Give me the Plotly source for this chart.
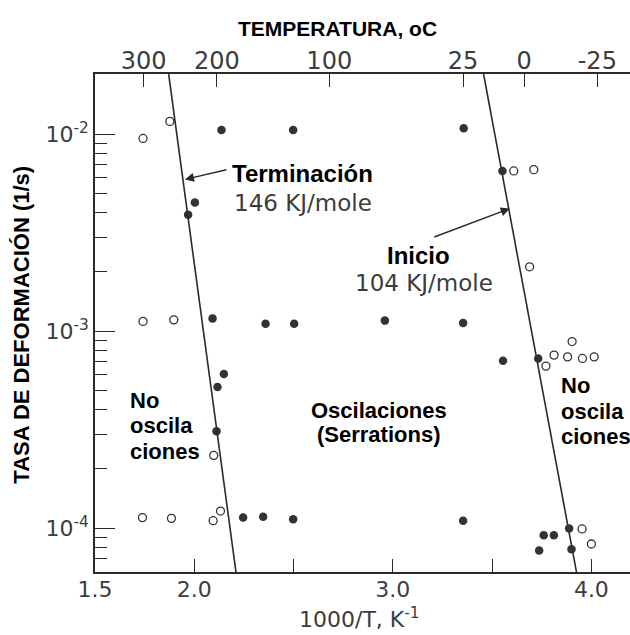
import plotly.graph_objects as go

# ---------------- data ----------------
# Filled circles: serrations observed (1000/T in K^-1, strain rate in 1/s)
serr_x = [2.137, 2.498, 3.357, 3.552, 2.003, 1.969, 2.092, 2.359, 2.503, 2.960,
          3.354, 3.555, 3.732, 2.149, 2.117, 2.112, 2.246, 2.347, 2.498, 3.354,
          3.760, 3.811, 3.888, 3.737, 3.900]
serr_y = [1.05e-2, 1.05e-2, 1.07e-2, 6.5e-3, 4.5e-3, 3.9e-3, 1.16e-3, 1.09e-3, 1.09e-3, 1.13e-3,
          1.10e-3, 7.06e-4, 7.26e-4, 6.05e-4, 5.2e-4, 3.1e-4, 1.13e-4, 1.14e-4, 1.11e-4, 1.09e-4,
          9.2e-5, 9.2e-5, 9.96e-5, 7.7e-5, 7.8e-5]

# Open circles: no serrations
noserr_x = [1.742, 1.877, 3.609, 3.710, 3.689, 1.742, 1.897, 3.771, 3.812, 3.880,
            3.903, 3.955, 4.014, 2.098, 1.739, 1.885, 2.132, 2.095, 3.953, 4.000]
noserr_y = [9.5e-3, 1.16e-2, 6.5e-3, 6.6e-3, 2.12e-3, 1.12e-3, 1.14e-3, 6.64e-4, 7.55e-4, 7.4e-4,
            8.85e-4, 7.26e-4, 7.4e-4, 2.34e-4, 1.13e-4, 1.12e-4, 1.22e-4, 1.09e-4, 9.9e-5, 8.3e-5]

# Boundary lines
term_line_x = [1.871, 2.210]      # Terminación, 146 kJ/mole
term_line_y = [2.018e-2, 5.98e-5]
ini_line_x = [3.457, 3.925]       # Inicio, 104 kJ/mole
ini_line_y = [2.018e-2, 5.98e-5]

# Axis ticks
x_tickvals = [1.5, 2.0, 3.0, 4.0]
x_ticktext = ["1.5", "2.0", "3.0", "4.0"]
x_minor_ticks = [2.5, 3.5]
temp_c = [300, 200, 100, 25, 0, -25]
temp_text = ["300", "200", "100", "25", "0", "-25"]
y_tickvals = [1e-4, 1e-3, 1e-2]
y_ticktext = ["10<sup>-4</sup>", "10<sup>-3</sup>", "10<sup>-2</sup>"]

# ---------------- figure ----------------
INK = "#2a2a2a"
GRAY = "#3c3c3c"
TICKFONT = "DejaVu Sans"
BOLD = "Liberation Sans, Arial, sans-serif"

fig = go.Figure()

fig.add_trace(go.Scatter(x=term_line_x, y=term_line_y, mode="lines",
                         line=dict(color=INK, width=1.6), xaxis="x2",
                         showlegend=False, hoverinfo="skip"))
fig.add_trace(go.Scatter(x=ini_line_x, y=ini_line_y, mode="lines",
                         line=dict(color=INK, width=1.6),
                         showlegend=False, hoverinfo="skip"))
fig.add_trace(go.Scatter(x=serr_x, y=serr_y, mode="markers",
                         marker=dict(symbol="circle", size=8.5, color="#333333",
                                     line=dict(width=0)),
                         showlegend=False))
fig.add_trace(go.Scatter(x=noserr_x, y=noserr_y, mode="markers",
                         marker=dict(symbol="circle-open", size=8,
                                     color="#333333", line=dict(width=1.3)),
                         showlegend=False))

XR = [1.5, 4.1945]
YR = [-4.223, -1.695]

minor_y = [m * 10.0 ** e for e in (-5, -4, -3, -2) for m in range(2, 10)]

fig.update_layout(
    width=630, height=635,
    margin=dict(l=95, r=0, t=74, b=63),
    paper_bgcolor="white", plot_bgcolor="white",
    xaxis=dict(range=XR, tickvals=x_tickvals, ticktext=x_ticktext,
               ticks="inside", ticklen=13, tickwidth=1.3, tickcolor=INK,
               minor=dict(tickvals=x_minor_ticks, ticks="inside", ticklen=13,
                          tickwidth=1.3, tickcolor=INK, showgrid=False),
               showline=True, linecolor=INK, linewidth=1.6,
               showgrid=False, zeroline=False, ticklabelstandoff=-3,
               tickfont=dict(family=TICKFONT, size=22, color=GRAY)),
    xaxis2=dict(range=XR, overlaying="x", side="top",
                tickvals=[1000.0 / (t + 273.15) for t in temp_c],
                ticktext=temp_text,
                ticks="inside", ticklen=13, tickwidth=1.3, tickcolor=INK,
                showline=True, linecolor=INK, linewidth=1.6,
                showgrid=False, zeroline=False, ticklabelstandoff=-6,
                tickfont=dict(family=TICKFONT, size=24, color=GRAY)),
    yaxis=dict(type="log", range=YR, tickvals=y_tickvals, ticktext=y_ticktext,
               ticks="inside", ticklen=20, tickwidth=1.3, tickcolor=INK,
               minor=dict(tickvals=minor_y, ticks="inside", ticklen=12,
                          tickwidth=1.3, tickcolor=INK, showgrid=False),
               showline=True, linecolor=INK, linewidth=1.6,
               showgrid=False, zeroline=False,
               tickfont=dict(family=TICKFONT, size=22, color=GRAY)),
)

def bold_text(text, x, y, size=22, xanchor="left"):
    fig.add_annotation(text=text, x=x, y=y, xref="paper", yref="paper",
                       xanchor=xanchor, yanchor="middle", showarrow=False,
                       font=dict(family=BOLD, size=size, color="black", weight="bold"))

def gray_text(text, x, y, size=22, xanchor="left"):
    fig.add_annotation(text=text, x=x, y=y, xref="paper", yref="paper",
                       xanchor=xanchor, yanchor="middle", showarrow=False,
                       font=dict(family=TICKFONT, size=size, color=GRAY))

# axis titles
fig.add_annotation(text="TEMPERATURA, oC", x=0.4542, y=1.0904, xref="paper", yref="paper",
                   xanchor="center", yanchor="middle", showarrow=False,
                   font=dict(family=BOLD, size=21, color="black", weight="bold"))
fig.add_annotation(text="TASA DE DEFORMACIÓN (1/s)", x=-0.138, y=0.497, xref="paper", yref="paper",
                   xanchor="center", yanchor="middle", showarrow=False, textangle=-90,
                   font=dict(family=BOLD, size=22, color="black", weight="bold"))
fig.add_annotation(text="1000/T, K<sup>-1</sup>", x=0.4953, y=-0.092, xref="paper", yref="paper",
                   xanchor="center", yanchor="middle", showarrow=False,
                   font=dict(family=TICKFONT, size=22, color=GRAY))

# inner labels
bold_text("Terminación", 0.2523, 0.7992, size=24)
gray_text("146 KJ/mole", 0.2561, 0.741, size=23)
bold_text("Inicio", 0.542, 0.6365, size=24)
gray_text("104 KJ/mole", 0.4822, 0.5803, size=23)

bold_text("No", 0.0617, 0.3453, size=22)
bold_text("oscila", 0.0617, 0.2932, size=22)
bold_text("ciones", 0.0617, 0.2410, size=22)

bold_text("Oscilaciones", 0.5308, 0.3253, size=22, xanchor="center")
bold_text("(Serrations)", 0.5308, 0.2771, size=22, xanchor="center")

bold_text("No", 0.8673, 0.3755, size=22)
bold_text("oscila", 0.8673, 0.3213, size=22)
bold_text("ciones", 0.8673, 0.2711, size=22)

# arrows pointing to the boundary lines (y in log10 units for log axis)
fig.add_annotation(x=1.953, y=-2.23, xref="x", yref="y", text="", showarrow=True,
                   ax=43, ay=-10, arrowhead=2, arrowsize=1.2, arrowwidth=1.5,
                   arrowcolor=INK)
fig.add_annotation(x=3.589, y=-2.378, xref="x", yref="y", text="", showarrow=True,
                   ax=-77, ay=29, arrowhead=2, arrowsize=1.2, arrowwidth=1.5,
                   arrowcolor=INK)

fig.write_html("out.html")
